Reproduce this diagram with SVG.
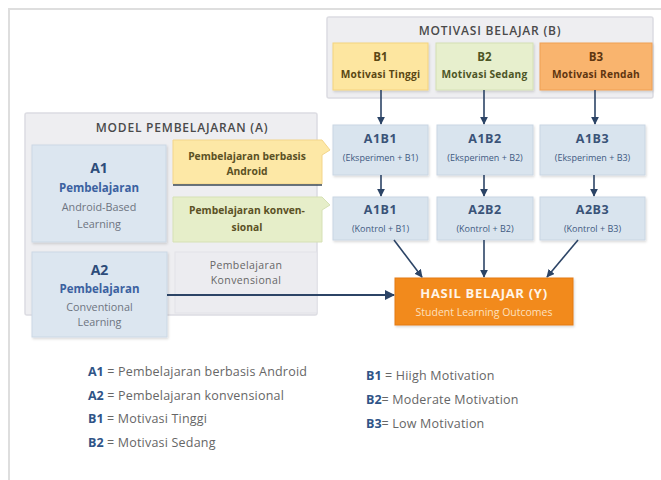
<svg xmlns="http://www.w3.org/2000/svg" width="661" height="480" viewBox="0 0 661 480">
<defs>
<marker id="ah" viewBox="0 0 10 10" refX="9" refY="5" markerWidth="5" markerHeight="5" orient="auto" markerUnits="strokeWidth">
<path d="M0,0 L10,5 L0,10 z" fill="#2c4466"/>
</marker>
<filter id="sh" x="-10%" y="-10%" width="125%" height="130%">
<feDropShadow dx="1" dy="1.5" stdDeviation="1.2" flood-color="#000" flood-opacity="0.15"/>
</filter>
</defs>
<style>
text{font-family:"Open Sans","DejaVu Sans",sans-serif;text-anchor:middle;}
.cont{fill:#eeeef1;stroke:#dcdce2;stroke-width:1.5;}
.hdr{font-size:12px;font-weight:600;fill:#4a4a4a;letter-spacing:0.8px;}
.cell{fill:#d9e4ee;stroke:#c9d6e3;stroke-width:1;filter:url(#sh);}
.cid{font-size:12.5px;font-weight:bold;fill:#3a5378;letter-spacing:0.5px;}
.csub{font-size:9px;fill:#3f5a82;}
.abox{fill:#dce6f0;stroke:#cbd8e5;stroke-width:1;filter:url(#sh);}
.aid{font-size:14px;font-weight:bold;fill:#2d4c7a;}
.apb{font-size:11.5px;font-weight:bold;fill:#3b61a0;}
.aen{font-size:10.8px;fill:#6d7480;}
.btl{font-size:11.5px;font-weight:bold;}
.bsub{font-size:10.2px;font-weight:bold;letter-spacing:0.2px;}
.side{font-size:10.3px;font-weight:bold;fill:#5b5125;}
.gray{font-size:10.5px;fill:#666;letter-spacing:0.4px;}
.conn{stroke:#2c4466;stroke-width:1.6;fill:none;marker-end:url(#ah);}
.lk{font-size:12.5px;font-weight:bold;fill:#2f5487;text-anchor:start;}
.lt{font-size:12.5px;fill:#666;text-anchor:start;letter-spacing:0.2px;}
</style>
<rect x="9" y="9" width="700" height="520" fill="#ffffff" stroke="#dedede" stroke-width="2"/>

<g id="motivasi-belajar">
<rect class="cont" x="327" y="17" width="326" height="81" rx="2"/>
<text class="hdr" x="490" y="35">MOTIVASI BELAJAR (B)</text>
</g>
<g id="b1">
<rect x="333" y="43" width="95" height="47" fill="#fde6a0" stroke="#f4d37e" filter="url(#sh)"/>
<text class="btl" x="380.5" y="61" fill="#5a4714">B1</text>
<text class="bsub" x="380.5" y="78" fill="#5a4714">Motivasi Tinggi</text>
</g>
<g id="b2">
<rect x="436" y="43" width="97" height="47" fill="#e7efcd" stroke="#d4e0b4" filter="url(#sh)"/>
<text class="btl" x="484.5" y="61" fill="#4d5526">B2</text>
<text class="bsub" x="484.5" y="78" fill="#4d5526">Motivasi Sedang</text>
</g>
<g id="b3">
<rect x="540" y="43" width="112" height="47" fill="#f9b46e" stroke="#f0a055" filter="url(#sh)"/>
<text class="btl" x="596" y="61" fill="#5e3510">B3</text>
<text class="bsub" x="596" y="78" fill="#5e3510">Motivasi Rendah</text>
</g>

<g id="model-pembelajaran">
<rect class="cont" x="25" y="113" width="292" height="202" rx="2"/>
<text class="hdr" x="182" y="132">MODEL PEMBELAJARAN (A)</text>
</g>
<g id="a1">
<rect class="abox" x="32" y="145" width="134" height="97"/>
<text class="aid" x="99" y="173">A1</text>
<text class="apb" x="99" y="192">Pembelajaran</text>
<text class="aen" x="99" y="211">Android-Based</text>
<text class="aen" x="99" y="228">Learning</text>
</g>
<g id="side-android">
<path d="M173,140 H322 L330,150 L322,155 V184 H173 Z" fill="#fde8a6" stroke="#f3d58a" stroke-width="1"/>
<line x1="173" y1="185" x2="322" y2="185" stroke="#3a4a5a" stroke-width="1.3"/>
<text class="side" x="247" y="160">Pembelajaran berbasis</text>
<text class="side" x="247" y="175">Android</text>
</g>
<g id="side-konvensional">
<path d="M173,197 H322 L330,205 L322,210 V242 H173 Z" fill="#e6eec9" stroke="#d6e1b5" stroke-width="1"/>
<text class="side" x="247" y="214" fill="#4d5526">Pembelajaran konven-</text>
<text class="side" x="247" y="231" fill="#4d5526">sional</text>
</g>
<g id="a2">
<rect class="abox" x="32" y="252" width="135" height="85"/>
<text class="aid" x="99.5" y="275">A2</text>
<text class="apb" x="99.5" y="293">Pembelajaran</text>
<text class="aen" x="99.5" y="311">Conventional</text>
<text class="aen" x="99.5" y="326">Learning</text>
</g>
<g id="side-konvensional-2">
<rect x="175" y="252" width="142" height="61" fill="#ececf0" stroke="#e2e2e8" stroke-width="1"/>
<text class="gray" x="246" y="269">Pembelajaran</text>
<text class="gray" x="246" y="284">Konvensional</text>
</g>

<g id="a1b1">
<rect class="cell" x="333" y="125" width="95" height="50"/>
<text class="cid" x="380.5" y="143">A1B1</text>
<text class="csub" x="380.5" y="161">(Eksperimen + B1)</text>
</g>
<g id="a1b2">
<rect class="cell" x="437" y="125" width="96" height="50"/>
<text class="cid" x="485" y="143">A1B2</text>
<text class="csub" x="485" y="161">(Eksperimen + B2)</text>
</g>
<g id="a1b3">
<rect class="cell" x="540" y="125" width="105" height="50"/>
<text class="cid" x="592.5" y="143">A1B3</text>
<text class="csub" x="592.5" y="161">(Eksperimen + B3)</text>
</g>
<g id="a2b1">
<rect class="cell" x="333" y="197" width="95" height="43"/>
<text class="cid" x="380.5" y="214">A1B1</text>
<text class="csub" x="380.5" y="232">(Kontrol + B1)</text>
</g>
<g id="a2b2">
<rect class="cell" x="437" y="197" width="96" height="43"/>
<text class="cid" x="485" y="214">A2B2</text>
<text class="csub" x="485" y="232">(Kontrol + B2)</text>
</g>
<g id="a2b3">
<rect class="cell" x="540" y="197" width="105" height="43"/>
<text class="cid" x="592.5" y="214">A2B3</text>
<text class="csub" x="592.5" y="232">(Kontrol + B3)</text>
</g>

<g id="hasil-belajar">
<rect x="395" y="278" width="178" height="47" fill="#f28a1e" stroke="#e47a10" filter="url(#sh)"/>
<text x="484" y="298" style="font-size:13px;font-weight:bold;fill:#fff5e8;letter-spacing:0.7px">HASIL BELAJAR (Y)</text>
<text x="484" y="316" style="font-size:10.5px;fill:#fde0bf">Student Learning Outcomes</text>
</g>

<g id="connectors">
<line class="conn" x1="381" y1="90" x2="381" y2="124"/>
<line class="conn" x1="484" y1="90" x2="484" y2="124"/>
<line class="conn" x1="595" y1="90" x2="595" y2="124"/>
<line class="conn" x1="381" y1="175" x2="381" y2="196"/>
<line class="conn" x1="484" y1="175" x2="484" y2="196"/>
<line class="conn" x1="594" y1="175" x2="594" y2="196"/>
<line class="conn" x1="394" y1="240" x2="422" y2="277"/>
<line class="conn" x1="484" y1="240" x2="484" y2="277"/>
<line class="conn" x1="578" y1="240" x2="547" y2="277"/>
<line class="conn" x1="167" y1="295" x2="394" y2="295" style="stroke-width:2"/>
</g>

<g id="legend">
<text x="88" y="376"><tspan class="lk">A1</tspan><tspan class="lt"> = Pembelajaran berbasis Android</tspan></text>
<text x="88" y="400"><tspan class="lk">A2</tspan><tspan class="lt"> = Pembelajaran konvensional</tspan></text>
<text x="88" y="423"><tspan class="lk">B1</tspan><tspan class="lt"> = Motivasi Tinggi</tspan></text>
<text x="88" y="447"><tspan class="lk">B2</tspan><tspan class="lt"> = Motivasi Sedang</tspan></text>
<text x="366" y="380"><tspan class="lk">B1</tspan><tspan class="lt"> = Hiigh Motivation</tspan></text>
<text x="366" y="404"><tspan class="lk">B2</tspan><tspan class="lt">= Moderate Motivation</tspan></text>
<text x="366" y="428"><tspan class="lk">B3</tspan><tspan class="lt">= Low Motivation</tspan></text>
</g>
</svg>
